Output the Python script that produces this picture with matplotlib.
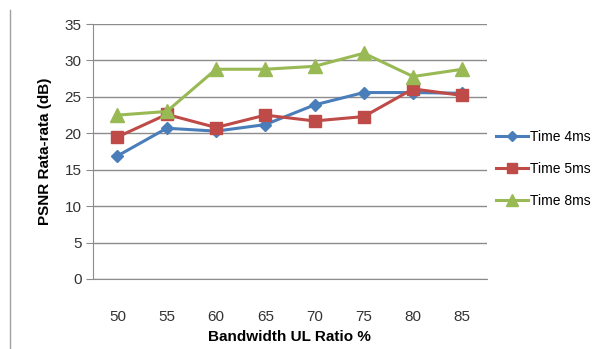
import matplotlib
matplotlib.use("Agg")
import matplotlib.pyplot as plt
from matplotlib.lines import Line2D

categories = ["50", "55", "60", "65", "70", "75", "80", "85"]
time_4ms = [16.9, 20.7, 20.3, 21.2, 23.9, 25.6, 25.6, 25.5]
time_5ms = [19.5, 22.6, 20.8, 22.5, 21.7, 22.3, 26.1, 25.2]
time_8ms = [22.5, 23.0, 28.8, 28.8, 29.2, 31.0, 27.8, 28.8]
series_names = ["Time 4ms", "Time 5ms", "Time 8ms"]
y_ticks = [0, 5, 10, 15, 20, 25, 30, 35]

plt.rcParams["font.family"] = ["Liberation Sans", "DejaVu Sans"]

fig = plt.figure(figsize=(5.99, 3.49), dpi=100)
ax = fig.add_axes([0.155, 0.2006, 0.658, 0.7304])

x = list(range(len(categories)))
styles = [
    (time_4ms, "#4A7EBB", "D", 6.5),
    (time_5ms, "#BE4B48", "s", 8.5),
    (time_8ms, "#98B954", "^", 9.5),
]
handles = []
for (vals, color, marker, ms), name in zip(styles, series_names):
    ax.plot(x, vals, color=color, lw=2.2, marker=marker, ms=ms,
            markeredgecolor=color, zorder=3, clip_on=False)
    handles.append(Line2D([0], [0], color=color, lw=2.2, marker=marker,
                          ms=ms * 0.85, markeredgecolor=color))

ax.set_xlim(-0.5, len(categories) - 0.5)
ax.set_ylim(0, 35)
ax.set_yticks(y_ticks)
ax.set_xticks(x)
ax.set_xticklabels(categories)
ax.yaxis.grid(True, color="#8c8c8c", lw=1.0)
ax.set_axisbelow(True)
for s in ("top", "right"):
    ax.spines[s].set_visible(False)
ax.spines["left"].set_color("#8c8c8c")
ax.spines["bottom"].set_color("#8c8c8c")
ax.tick_params(axis="x", length=0, pad=22, labelsize=11, colors="#333333")
ax.tick_params(axis="y", length=5, color="#8c8c8c", labelsize=11,
               colors="#333333", pad=3)

ax.set_xlabel("Bandwidth UL Ratio %", fontsize=11, fontweight="bold",
              labelpad=5)
ax.set_ylabel("PSNR Rata-rata (dB)", fontsize=11, fontweight="bold",
              labelpad=9)

ax.legend(handles, series_names, loc="center left",
          bbox_to_anchor=(1.023, 0.431), frameon=False, fontsize=10,
          handlelength=2.3, handletextpad=0.15, labelspacing=1.3,
          borderaxespad=0, borderpad=0)

# chart frame edge on the left
fig.add_artist(Line2D([0.017, 0.017], [0.0, 0.97], color="#a0a0a0", lw=1.0,
                      transform=fig.transFigure))

fig.savefig("out.png", dpi=100)
